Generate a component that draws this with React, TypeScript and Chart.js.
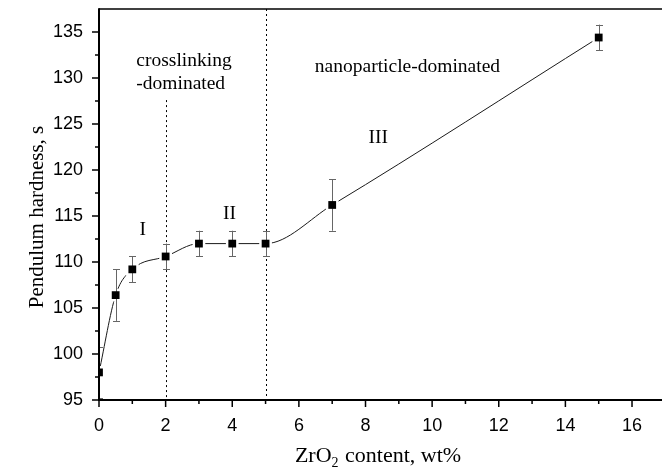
import React, { useEffect, useRef } from "react";
import { Chart, registerables } from "chart.js";

Chart.register(...registerables);

// ---- data ----
const zrO2Content = [0, 0.5, 1, 2, 3, 4, 5, 7, 15];
const hardness = [98.0, 106.4, 109.2, 110.6, 112.0, 112.0, 112.0, 116.2, 134.4];
const hardnessErr = [2.8, 2.8, 1.4, 1.4, 1.4, 1.4, 1.4, 2.8, 1.4];

const xTickValues = [0, 2, 4, 6, 8, 10, 12, 14, 16];
const xMinorValues = [1, 3, 5, 7, 9, 11, 13, 15];
const yTickValues = [95, 100, 105, 110, 115, 120, 125, 130, 135];
const yMinorValues = [97.5, 102.5, 107.5, 112.5, 117.5, 122.5, 127.5, 132.5];

const X_MIN = 0;
const X_MAX = 16.9;
const Y_MIN = 95;
const Y_MAX = 137.5;

// regime dividers: x position and top value (null = full height)
const dividerX = [2, 5];
const dividerTop: (number | null)[] = [127.6, null];

// annotations: text, x (data), y (data baseline), alignment
const noteTexts = ["crosslinking", "-dominated", "nanoparticle-dominated", "I", "II", "III"];
const noteX = [1.12, 1.12, 6.48, 1.31, 3.92, 8.38];
const noteY = [131.3, 128.8, 130.7, 112.95, 114.7, 122.9];
const noteAlign: CanvasTextAlign[] = ["left", "left", "left", "center", "center", "center"];

const xTitleMain = "ZrO";
const xTitleSub = "2";
const xTitleRest = " content, wt%";
const yTitle = "Pendulum hardness, s";

const SERIF = "'Liberation Serif', 'Times New Roman', serif";
const SANS = "'Liberation Sans', Arial, sans-serif";

const zeroPad = (scale: any) => {
  scale.paddingTop = 0;
  scale.paddingBottom = 0;
  scale.paddingLeft = 0;
  scale.paddingRight = 0;
};

const decorPlugin = {
  id: "decor",
  beforeDatasetsDraw(chart: any) {
    const { ctx, chartArea, scales } = chart;
    const xs = scales.x;
    const ys = scales.y;
    ctx.save();
    ctx.strokeStyle = "#000";
    ctx.lineWidth = 1;
    ctx.setLineDash([2, 3]);
    dividerX.forEach((dx, i) => {
      const px = Math.round(xs.getPixelForValue(dx)) + 0.5;
      const top = dividerTop[i] == null ? chartArea.top : ys.getPixelForValue(dividerTop[i] as number);
      ctx.beginPath();
      ctx.moveTo(px, top);
      ctx.lineTo(px, chartArea.bottom);
      ctx.stroke();
    });
    ctx.restore();
  },
  afterDatasetDraw(chart: any, args: any) {
    if (args.index !== 1) return;
    const { ctx, chartArea, scales } = chart;
    const xs = scales.x;
    const ys = scales.y;
    ctx.save();
    ctx.beginPath();
    ctx.rect(chartArea.left, chartArea.top, chartArea.right - chartArea.left, chartArea.bottom - chartArea.top);
    ctx.clip();
    ctx.strokeStyle = "#666";
    ctx.lineWidth = 1;
    zrO2Content.forEach((x, i) => {
      const px = Math.round(xs.getPixelForValue(x)) + 0.5;
      const yt = ys.getPixelForValue(hardness[i] + hardnessErr[i]);
      const yb = ys.getPixelForValue(hardness[i] - hardnessErr[i]);
      ctx.beginPath();
      ctx.moveTo(px, yt);
      ctx.lineTo(px, yb);
      ctx.moveTo(px - 3.5, Math.round(yt) + 0.5);
      ctx.lineTo(px + 3.5, Math.round(yt) + 0.5);
      ctx.moveTo(px - 3.5, Math.round(yb) + 0.5);
      ctx.lineTo(px + 3.5, Math.round(yb) + 0.5);
      ctx.stroke();
    });
    ctx.restore();
  },
  afterDraw(chart: any) {
    const { ctx, chartArea, scales } = chart;
    const xs = scales.x;
    const ys = scales.y;
    const L = chartArea.left;
    const B = chartArea.bottom;
    const T = chartArea.top;
    const R = chartArea.right;
    ctx.save();
    ctx.strokeStyle = "#000";
    // frame
    ctx.lineWidth = 1.6;
    ctx.beginPath();
    ctx.moveTo(L, T);
    ctx.lineTo(R, T);
    ctx.stroke();
    ctx.lineWidth = 2;
    ctx.beginPath();
    ctx.moveTo(L, T - 0.8);
    ctx.lineTo(L, B + 1);
    ctx.moveTo(L - 1, B);
    ctx.lineTo(R, B);
    ctx.stroke();
    // ticks
    ctx.lineWidth = 1.5;
    ctx.beginPath();
    yTickValues.forEach((v) => {
      const py = ys.getPixelForValue(v);
      ctx.moveTo(L - 7, py);
      ctx.lineTo(L, py);
    });
    yMinorValues.forEach((v) => {
      const py = ys.getPixelForValue(v);
      ctx.moveTo(L - 4, py);
      ctx.lineTo(L, py);
    });
    xTickValues.forEach((v) => {
      const px = xs.getPixelForValue(v);
      ctx.moveTo(px, B);
      ctx.lineTo(px, B + 7);
    });
    xMinorValues.forEach((v) => {
      const px = xs.getPixelForValue(v);
      ctx.moveTo(px, B);
      ctx.lineTo(px, B + 4);
    });
    ctx.stroke();

    // annotations
    ctx.fillStyle = "#000";
    ctx.textBaseline = "alphabetic";
    ctx.font = `19.5px ${SERIF}`;
    noteTexts.forEach((t, i) => {
      ctx.textAlign = noteAlign[i];
      ctx.fillText(t, xs.getPixelForValue(noteX[i]), ys.getPixelForValue(noteY[i]));
    });

    // x title
    ctx.textAlign = "left";
    ctx.font = `22px ${SERIF}`;
    const wMain = ctx.measureText(xTitleMain).width;
    ctx.font = `14px ${SERIF}`;
    const wSub = ctx.measureText(xTitleSub).width;
    ctx.font = `22px ${SERIF}`;
    const wRest = ctx.measureText(xTitleRest).width;
    const total = wMain + wSub + 1 + wRest;
    const cx = 378;
    let sx = cx - total / 2;
    const baseY = 462;
    ctx.fillText(xTitleMain, sx, baseY);
    sx += wMain;
    ctx.font = `14px ${SERIF}`;
    ctx.fillText(xTitleSub, sx, baseY + 5);
    sx += wSub + 1;
    ctx.font = `22px ${SERIF}`;
    ctx.fillText(xTitleRest, sx, baseY);

    // y title
    ctx.save();
    ctx.translate(43, 217);
    ctx.rotate(-Math.PI / 2);
    ctx.textAlign = "center";
    ctx.font = `21px ${SERIF}`;
    ctx.fillText(yTitle, 0, 0);
    ctx.restore();

    ctx.restore();
  },
};

export default function App() {
  const canvasRef = useRef<HTMLCanvasElement | null>(null);

  useEffect(() => {
    const canvas = canvasRef.current;
    if (!canvas) return;
    const points = zrO2Content.map((x, i) => ({ x, y: hardness[i] }));
    const chart = new Chart(canvas, {
      type: "scatter",
      data: {
        datasets: [
          {
            data: points,
            showLine: true,
            borderColor: "#1a1a1a",
            borderWidth: 1,
            cubicInterpolationMode: "monotone",
            pointRadius: 0,
            order: 3,
          },
          {
            data: points,
            showLine: false,
            pointStyle: "rect",
            pointRadius: 9,
            pointBackgroundColor: "#fff",
            pointBorderWidth: 0,
            pointBorderColor: "#fff",
            order: 2,
            clip: 0,
          },
          {
            data: points,
            showLine: false,
            pointStyle: "rect",
            pointRadius: 5.5,
            pointBackgroundColor: "#000",
            pointBorderWidth: 0,
            pointBorderColor: "#000",
            order: 1,
            clip: 0,
          },
        ],
      } as any,
      options: {
        animation: false,
        responsive: false,
        devicePixelRatio: 1,
        layout: { autoPadding: false, padding: { top: 9, left: 0, right: 0, bottom: 0 } },
        plugins: {
          legend: { display: false },
          tooltip: { enabled: false },
          title: { display: false },
        },
        events: [],
        scales: {
          x: {
            type: "linear",
            min: X_MIN,
            max: X_MAX,
            border: { display: false },
            grid: { display: false },
            afterBuildTicks: (scale: any) => {
              scale.ticks = xTickValues.map((v) => ({ value: v }));
            },
            afterFit: (scale: any) => {
              scale.height = 69;
              zeroPad(scale);
            },
            ticks: {
              padding: 7,
              color: "#000",
              font: { family: SANS, size: 18 },
              maxRotation: 0,
              autoSkip: false,
              callback: (v: any) => String(v),
            },
          },
          y: {
            type: "linear",
            min: Y_MIN,
            max: Y_MAX,
            border: { display: false },
            grid: { display: false },
            afterBuildTicks: (scale: any) => {
              scale.ticks = yTickValues.map((v) => ({ value: v }));
            },
            afterFit: (scale: any) => {
              scale.width = 99;
              zeroPad(scale);
            },
            ticks: {
              padding: 8,
              color: "#000",
              font: { family: SANS, size: 18 },
              autoSkip: false,
              callback: (v: any) => String(v),
            },
          },
        },
      } as any,
      plugins: [decorPlugin],
    });
    return () => chart.destroy();
  }, []);

  return (
    <div style={{ position: "fixed", left: 0, top: 0, width: 662, height: 469, background: "#fff" }}>
      <canvas ref={canvasRef} width={662} height={469} style={{ display: "block", width: 662, height: 469 }} />
    </div>
  );
}
